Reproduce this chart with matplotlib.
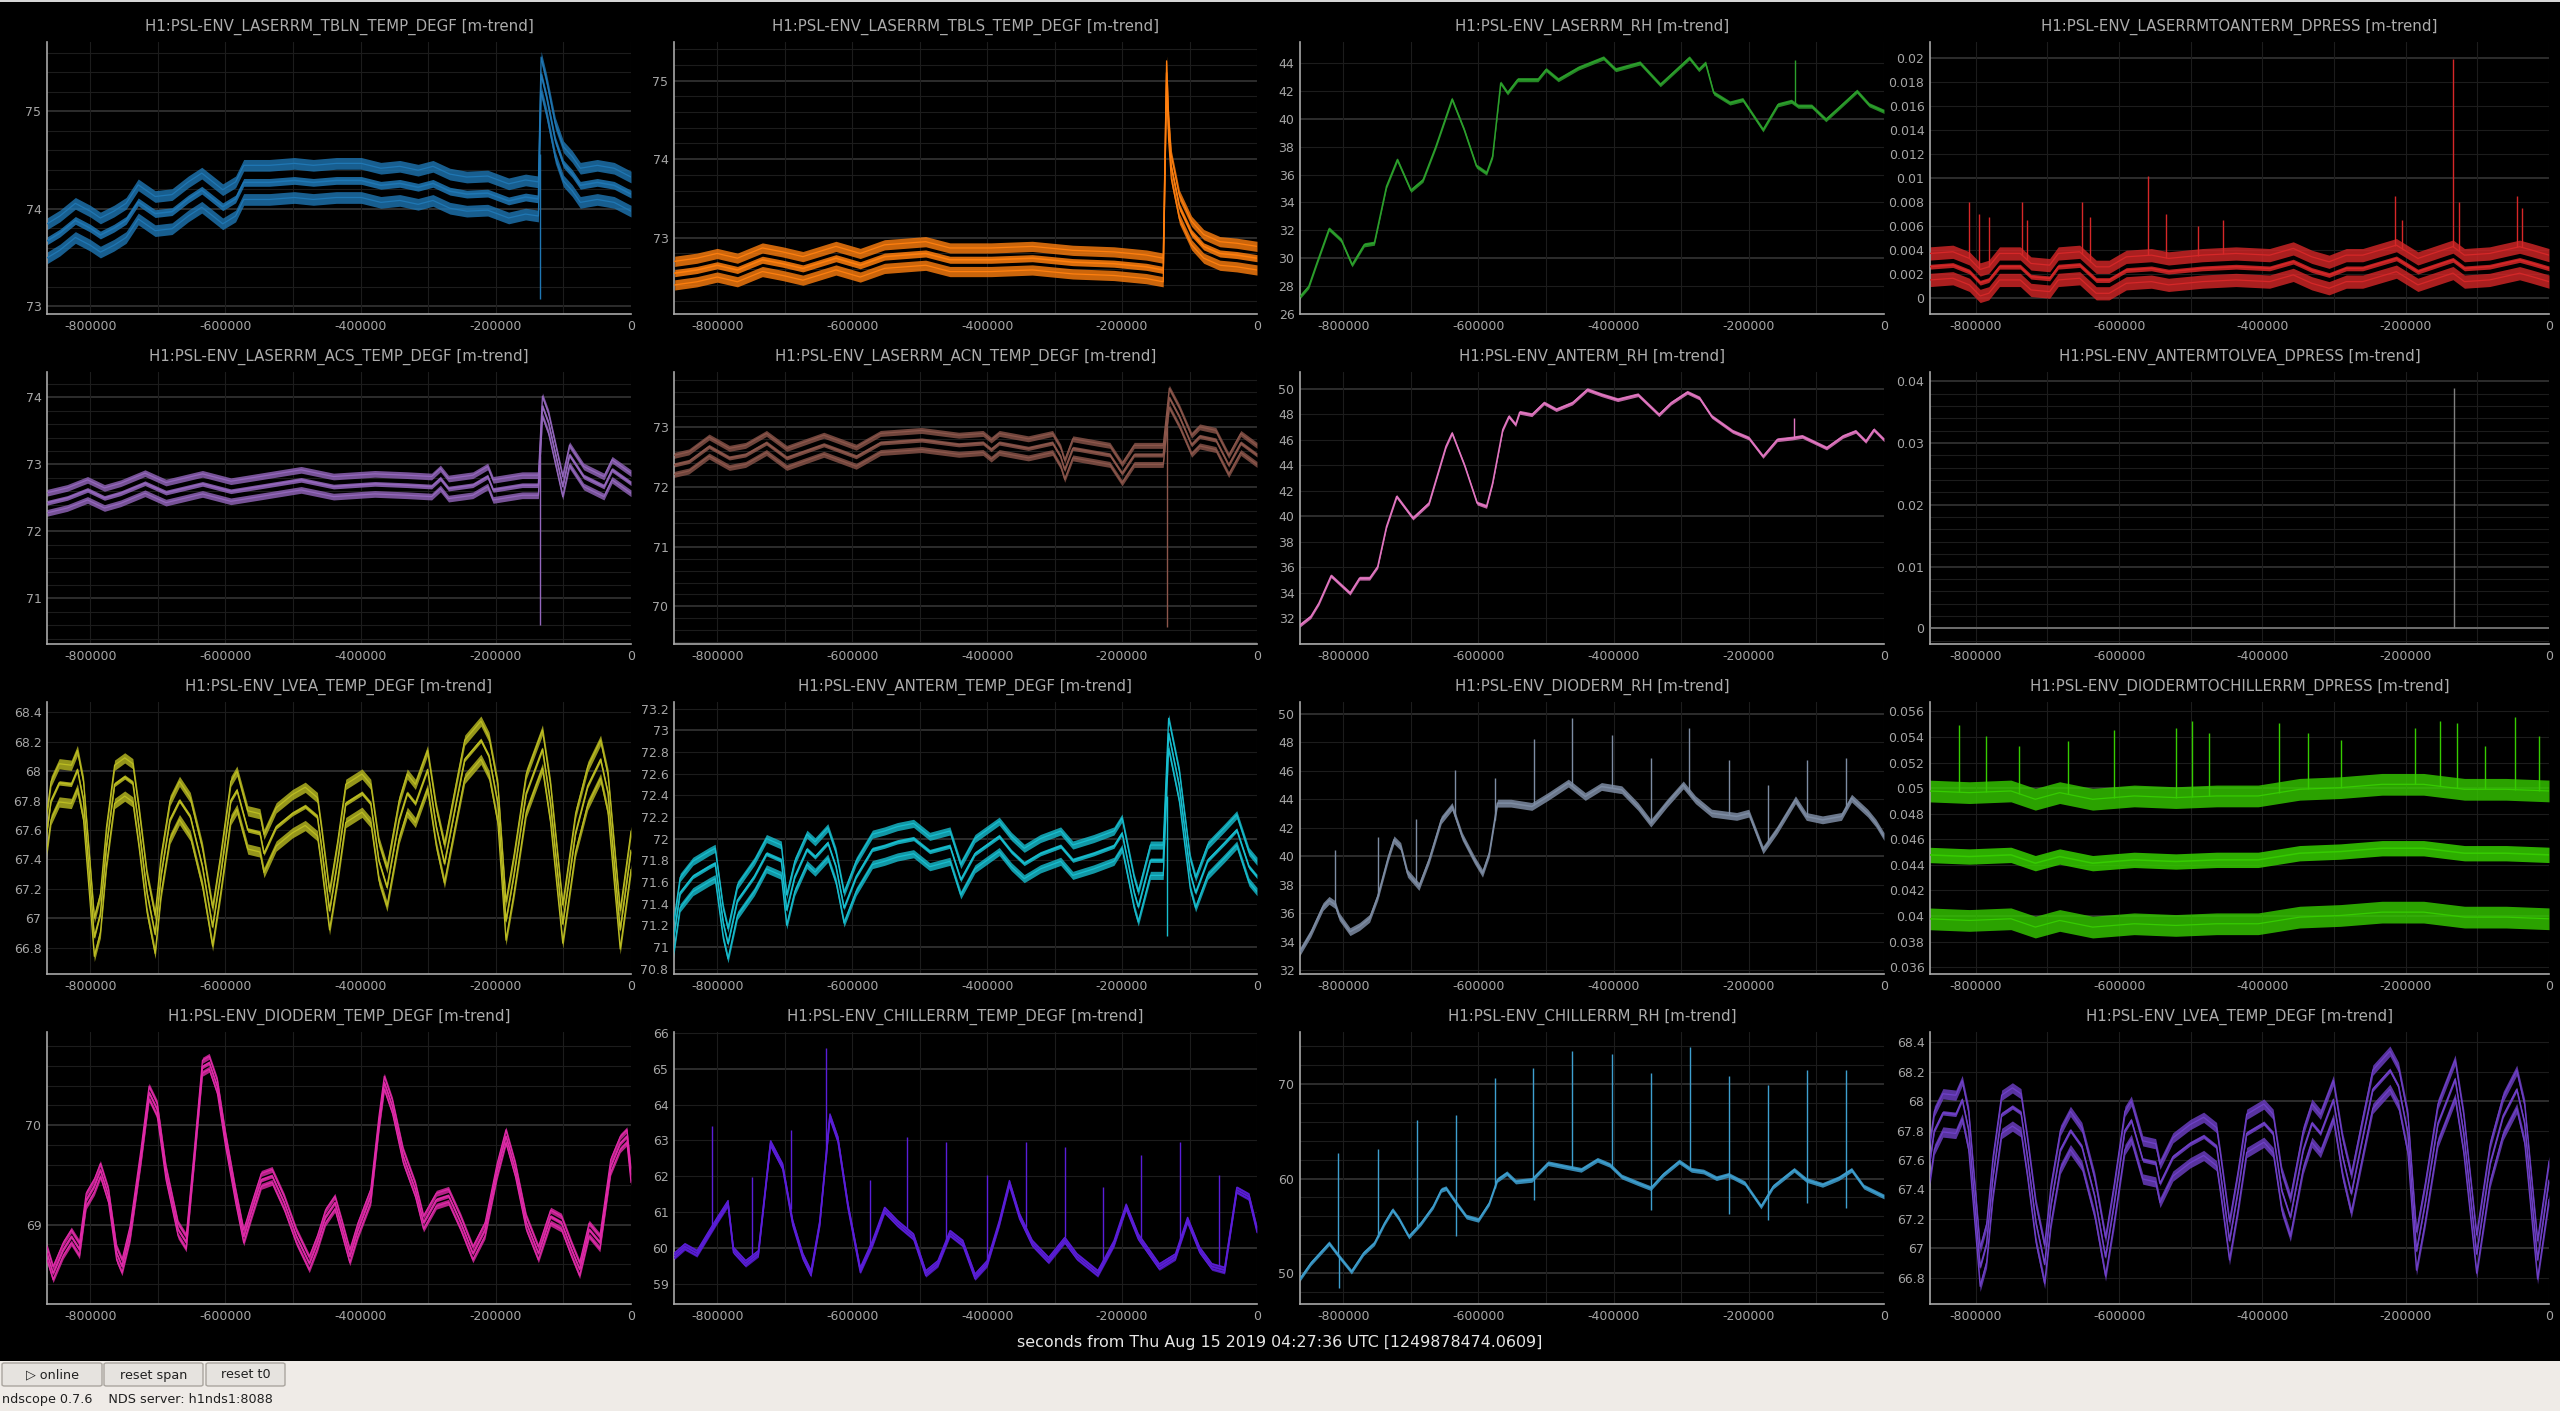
import numpy as np
import matplotlib
matplotlib.use('Agg')
import matplotlib.pyplot as plt
from matplotlib.patches import Rectangle, FancyBboxPatch

# -- data (time in kilo-seconds before t0, value of the trend mean) --
t_tbln = [-864, -845, -822, -800, -785, -765, -747, -729, -704, -679, -655, -635, -604, -585, -573, -535, -498, -470, -436, -399,
          -370, -342, -315, -293, -268, -243, -212, -181, -156, -137, -133, -125, -112, -100, -87, -75, -50, -25, 0]
v_tbln = [73.67, 73.75, 73.88, 73.80, 73.73, 73.80, 73.88, 74.07, 73.95, 73.97, 74.10, 74.19, 74.02, 74.10, 74.27, 74.27, 74.29, 74.27, 74.29, 74.29,
          74.24, 74.26, 74.22, 74.26, 74.18, 74.15, 74.16, 74.08, 74.12, 74.10, 75.38, 75.15, 74.70, 74.46, 74.36, 74.24, 74.27, 74.24, 74.15]
spk_t_tbln = [-135]
spk_v_tbln = [73.07]

t_tbls = [-863, -830, -800, -770, -733, -703, -673, -624, -588, -552, -491, -455, -394, -333, -273, -212, -164, -139, -134, -131,
          -127, -115, -97, -79, -55, -30, 0]
v_tbls = [72.55, 72.59, 72.65, 72.59, 72.72, 72.67, 72.61, 72.74, 72.65, 72.76, 72.80, 72.72, 72.72, 72.74, 72.69, 72.67, 72.63, 72.59, 75.10, 74.40,
          73.90, 73.39, 73.06, 72.89, 72.80, 72.78, 72.74]
spk_t_tbls = []
spk_v_tbls = []

t_lrh = [-866, -851, -839, -821, -803, -787, -769, -754, -736, -720, -700, -682, -663, -639, -621, -603, -588, -579, -567, -557,
         -542, -512, -500, -482, -452, -415, -397, -361, -331, -288, -274, -264, -252, -228, -209, -179, -157, -137, -127, -107,
         -86, -64, -40, -22, 0]
v_lrh = [27.13, 27.97, 29.65, 32.1, 31.3, 29.52, 30.96, 31.08, 35.15, 37.06, 34.86, 35.6, 38.0, 41.4, 39.2, 36.6, 36.1, 37.3, 42.56, 41.85,
         42.8, 42.8, 43.52, 42.8, 43.64, 44.36, 43.52, 44.0, 42.44, 44.36, 43.52, 44.0, 41.85, 41.13, 41.37, 39.2, 41.0, 41.25, 40.9, 40.9,
         39.93, 40.9, 41.97, 41.0, 40.53]
spk_t_lrh = [-132]
spk_v_lrh = [44.24]

t_lra = [-864, -832, -809, -794, -782, -767, -738, -723, -697, -685, -655, -632, -614, -590, -555, -531, -484, -437, -390, -357,
         -331, -307, -283, -260, -213, -183, -134, -118, -83, -41, -24, 0]
v_lra = [0.00263, 0.00277, 0.00222, 0.0013, 0.00152, 0.00263, 0.00263, 0.0018, 0.00166, 0.00263, 0.00277, 0.00152, 0.00152, 0.00235, 0.00249,
         0.00222, 0.00249, 0.00263, 0.00249, 0.00305, 0.00235, 0.00194, 0.00249, 0.00249, 0.00332, 0.00222, 0.0032, 0.00249, 0.00263, 0.00319,
         0.00291, 0.00249]
spk_t_lra = [-810, -795, -782, -735, -728, -652, -640, -560, -535, -490, -455, -215, -205, -134, -125, -45, -38]
spk_v_lra = [0.008, 0.007, 0.0068, 0.008, 0.0065, 0.008, 0.0068, 0.0102, 0.007, 0.006, 0.0065, 0.0085, 0.0065, 0.0199, 0.008, 0.0085, 0.0075]

t_acs = [-867, -834, -804, -779, -755, -719, -688, -634, -592, -549, -488, -440, -379, -331, -295, -282, -270, -234, -212, -204,
         -161, -137, -131, -122, -101, -91, -70, -40, -28, 0]
v_acs = [72.42, 72.50, 72.62, 72.50, 72.57, 72.72, 72.58, 72.71, 72.60, 72.67, 72.77, 72.67, 72.71, 72.69, 72.67, 72.79, 72.64, 72.69, 72.82, 72.62,
         72.69, 72.69, 73.87, 73.62, 72.67, 73.14, 72.82, 72.67, 72.92, 72.72]
spk_t_acs = [-134]
spk_v_acs = [70.6]

t_acn = [-865, -842, -812, -782, -758, -727, -697, -642, -594, -558, -497, -442, -406, -394, -382, -339, -303, -291, -285, -273,
         -218, -200, -182, -139, -130, -115, -97, -85, -61, -42, -24, 0]
v_acn = [72.37, 72.43, 72.68, 72.49, 72.54, 72.74, 72.49, 72.71, 72.51, 72.74, 72.79, 72.71, 72.74, 72.63, 72.74, 72.65, 72.74, 72.51, 72.29, 72.65,
         72.54, 72.23, 72.54, 72.54, 73.50, 73.18, 72.71, 72.85, 72.79, 72.37, 72.74, 72.54]
spk_t_acn = [-133]
spk_v_acn = [69.66]

t_arh = [-867, -848, -836, -818, -806, -790, -776, -761, -749, -736, -721, -697, -673, -648, -639, -620, -602, -588, -579, -564,
         -555, -545, -539, -521, -503, -485, -461, -439, -418, -394, -364, -333, -315, -291, -273, -255, -224, -200, -179, -158,
         -136, -121, -85, -61, -42, -27, -15, 0]
v_arh = [31.36, 32.15, 33.2, 35.35, 34.76, 33.98, 35.16, 35.16, 36.07, 39.21, 41.57, 39.87, 41.05, 45.5, 46.54, 43.93, 41.05, 40.79, 42.62, 46.81,
         47.85, 47.2, 48.17, 47.98, 48.9, 48.38, 48.9, 49.95, 49.55, 49.16, 49.55, 47.98, 48.9, 49.74, 49.29, 47.85, 46.68, 46.15, 44.71, 46.02,
         46.15, 46.28, 45.37, 46.28, 46.68, 45.89, 46.81, 46.02]
spk_t_arh = [-133]
spk_v_arh = [47.72]

t_alv = [-864, 0]
v_alv = [0.0, 0.0]
spk_t_alv = [-132]
spk_v_alv = [0.0389]

t_lvea = [-867, -858, -846, -828, -819, -810, -801, -794, -785, -776, -764, -749, -737, -728, -716, -704, -695, -682, -668, -652,
          -634, -619, -607, -592, -583, -567, -549, -543, -525, -501, -482, -464, -458, -446, -434, -422, -398, -385, -373, -361,
          -343, -331, -319, -301, -288, -276, -258, -246, -222, -210, -197, -185, -173, -155, -131, -119, -101, -82, -64, -45,
          -34, -16, 0]
v_lvea = [67.49, 67.80, 67.92, 67.91, 68.01, 67.80, 67.28, 66.87, 67.03, 67.49, 67.91, 67.96, 67.92, 67.62, 67.17, 66.89, 67.30, 67.67, 67.80, 67.69,
          67.35, 66.94, 67.30, 67.80, 67.87, 67.60, 67.58, 67.44, 67.62, 67.71, 67.76, 67.69, 67.49, 67.05, 67.39, 67.78, 67.85, 67.78, 67.39, 67.21,
          67.67, 67.85, 67.78, 68.01, 67.62, 67.37, 67.80, 68.08, 68.21, 68.10, 67.78, 66.98, 67.30, 67.85, 68.15, 67.78, 66.96, 67.58, 67.90, 68.08,
          67.85, 66.92, 67.46]
spk_t_lvea = []
spk_v_lvea = []

t_atemp = [-865, -855, -836, -812, -803, -791, -784, -770, -745, -727, -705, -697, -685, -667, -655, -636, -624, -612, -594, -570,
           -552, -533, -509, -485, -455, -439, -418, -382, -364, -345, -321, -291, -273, -242, -212, -200, -182, -176, -158, -139,
           -131, -115, -99, -91, -73, -48, -30, -12, 0]
v_atemp = [71.06, 71.50, 71.65, 71.74, 71.77, 71.22, 71.03, 71.43, 71.65, 71.86, 71.80, 71.34, 71.65, 71.90, 71.83, 71.96, 71.74, 71.36, 71.65, 71.90,
           71.93, 71.97, 72.00, 71.88, 71.93, 71.62, 71.86, 72.02, 71.88, 71.77, 71.86, 71.93, 71.80, 71.86, 71.93, 72.05, 71.50, 71.37, 71.80, 71.80,
           72.97, 72.48, 71.68, 71.50, 71.80, 71.96, 72.08, 71.74, 71.65]
spk_t_atemp = [-134]
spk_v_atemp = [71.1]

t_drh = [-867, -848, -830, -821, -812, -806, -790, -776, -761, -749, -733, -725, -715, -705, -688, -673, -655, -639, -624, -606,
         -594, -584, -572, -552, -521, -497, -467, -442, -418, -388, -364, -345, -321, -297, -279, -255, -218, -200, -179, -158,
         -131, -115, -91, -63, -48, -24, -12, 0]
v_drh = [33.07, 34.6, 36.46, 36.9, 36.6, 35.76, 34.7, 35.06, 35.64, 37.17, 39.98, 41.15, 40.68, 38.8, 37.87, 39.74, 42.55, 43.49, 41.38, 39.74,
         38.8, 40.2, 43.72, 43.72, 43.49, 44.19, 45.13, 44.19, 44.89, 44.66, 43.49, 42.32, 43.72, 45.0, 43.96, 43.02, 42.79, 43.02, 40.44, 41.85,
         43.96, 42.79, 42.55, 42.79, 44.07, 43.02, 42.32, 41.38]
spk_t_drh = [-812, -749, -693, -634, -576, -518, -461, -402, -345, -288, -230, -172, -114, -56]
spk_v_drh = [40.44, 41.38, 42.6, 46.07, 45.5, 48.2, 49.7, 48.5, 46.9, 49.0, 46.77, 45.0, 46.77, 46.9]

t_dch = [-867, -809, -751, -717, -683, -637, -579, -521, -464, -406, -348, -291, -233, -175, -118, -60, 0]
v_dch = [0.04478, 0.04465, 0.04478, 0.04413, 0.04465, 0.04413, 0.04439, 0.04426, 0.04439, 0.04439, 0.04491, 0.04504, 0.0453, 0.0453,
         0.04491, 0.04491, 0.04478]
spk_t_dch = [-823, -786, -740, -671, -607, -521, -498, -475, -377, -337, -291, -187, -152, -129, -89, -48, -14]
spk_v_dch = [0.05496, 0.05405, 0.05326, 0.05366, 0.05457, 0.0547, 0.05522, 0.05431, 0.05509, 0.05431, 0.05379, 0.0547, 0.05522, 0.05509,
             0.05326, 0.05556, 0.05405]

t_dtemp = [-867, -855, -840, -828, -816, -806, -794, -785, -773, -761, -753, -741, -725, -713, -701, -688, -670, -658, -646, -634,
           -624, -612, -600, -585, -573, -561, -547, -531, -513, -495, -476, -464, -452, -438, -428, -416, -404, -385, -373, -365,
           -353, -337, -319, -307, -288, -270, -252, -234, -216, -198, -185, -171, -155, -137, -119, -103, -88, -76, -62, -46,
           -30, -16, -6, 0]
v_dtemp = [68.78, 68.51, 68.75, 68.88, 68.75, 69.25, 69.39, 69.55, 69.29, 68.71, 68.58, 68.92, 69.69, 70.33, 70.16, 69.52, 68.95, 68.82, 69.69, 70.59,
           70.63, 70.39, 69.86, 69.29, 68.88, 69.15, 69.45, 69.49, 69.22, 68.88, 68.61, 68.82, 69.08, 69.22, 68.98, 68.68, 68.95, 69.29, 70.02, 70.43,
           70.19, 69.69, 69.35, 69.02, 69.25, 69.29, 69.02, 68.71, 68.95, 69.55, 69.89, 69.55, 69.02, 68.71, 69.08, 69.02, 68.75, 68.55, 68.95, 68.82,
           69.59, 69.82, 69.89, 69.49]
spk_t_dtemp = []
spk_v_dtemp = []

t_ctemp = [-865, -848, -830, -812, -800, -784, -776, -758, -739, -721, -703, -688, -673, -661, -648, -633, -621, -606, -588, -570,
           -552, -533, -509, -491, -473, -455, -436, -418, -400, -382, -367, -352, -333, -309, -285, -267, -236, -212, -194, -176,
           -145, -121, -103, -85, -67, -48, -30, -12, 0]
v_ctemp = [59.76, 60.04, 59.85, 60.41, 60.78, 61.25, 59.94, 59.57, 59.85, 62.92, 62.27, 60.69, 59.76, 59.29, 60.69, 63.67, 63.02, 61.15, 59.38, 60.13,
           61.06, 60.69, 60.31, 59.29, 59.57, 60.41, 60.13, 59.2, 59.57, 60.69, 61.81, 60.88, 60.13, 59.66, 60.22, 59.76, 59.29, 60.13, 61.15, 60.31,
           59.48, 59.76, 60.78, 59.94, 59.48, 59.38, 61.62, 61.43, 60.5]
spk_t_ctemp = [-808, -749, -691, -639, -573, -518, -461, -400, -343, -285, -228, -172, -114, -56]
spk_v_ctemp = [63.39, 61.99, 63.3, 65.58, 61.9, 63.11, 62.97, 62.04, 62.97, 62.83, 61.71, 62.6, 62.97, 62.04]

t_crh = [-867, -848, -830, -821, -806, -788, -770, -754, -739, -727, -718, -703, -685, -667, -655, -648, -636, -618, -600, -584,
         -572, -558, -545, -521, -497, -473, -448, -424, -406, -388, -364, -345, -327, -303, -285, -267, -248, -230, -206, -182,
         -164, -133, -115, -91, -67, -48, -30, 0]
v_crh = [49.1, 51.04, 52.45, 53.16, 51.75, 50.16, 52.1, 53.16, 55.27, 56.68, 55.8, 53.86, 55.27, 57.04, 58.8, 58.98, 57.74, 55.98, 55.63, 57.39,
         59.86, 60.56, 59.68, 59.86, 61.62, 61.27, 60.92, 61.98, 61.45, 60.21, 59.51, 58.98, 60.39, 61.8, 60.92, 60.74, 60.04, 60.39, 59.51, 57.04,
         59.15, 60.92, 59.86, 59.33, 60.04, 60.92, 59.15, 58.1]
spk_t_crh = [-808, -749, -691, -633, -576, -519, -461, -402, -345, -287, -230, -172, -114, -56,
             -807, -633, -518, -345, -230, -172, -114, -56]
spk_v_crh = [62.68, 63.1, 66.2, 66.74, 70.62, 71.68, 73.44, 73.2, 71.15, 73.9, 70.86, 69.9, 71.5, 71.5,
             48.4, 53.9, 57.7, 56.7, 56.3, 55.6, 57.4, 56.9]

# spread of the min / max trend lines around the mean
band_spread = [0.175, 0.15, 0.0, 0.0011, 0.15, 0.16, 0.0, 0.0,
               0.13, 0.14, 0.0, 0.005, 0.065, 0.07, 0.0, 0.13]

titles = ['H1:PSL-ENV_LASERRM_TBLN_TEMP_DEGF [m-trend]', 'H1:PSL-ENV_LASERRM_TBLS_TEMP_DEGF [m-trend]',
          'H1:PSL-ENV_LASERRM_RH [m-trend]', 'H1:PSL-ENV_LASERRMTOANTERM_DPRESS [m-trend]',
          'H1:PSL-ENV_LASERRM_ACS_TEMP_DEGF [m-trend]', 'H1:PSL-ENV_LASERRM_ACN_TEMP_DEGF [m-trend]',
          'H1:PSL-ENV_ANTERM_RH [m-trend]', 'H1:PSL-ENV_ANTERMTOLVEA_DPRESS [m-trend]',
          'H1:PSL-ENV_LVEA_TEMP_DEGF [m-trend]', 'H1:PSL-ENV_ANTERM_TEMP_DEGF [m-trend]',
          'H1:PSL-ENV_DIODERM_RH [m-trend]', 'H1:PSL-ENV_DIODERMTOCHILLERRM_DPRESS [m-trend]',
          'H1:PSL-ENV_DIODERM_TEMP_DEGF [m-trend]', 'H1:PSL-ENV_CHILLERRM_TEMP_DEGF [m-trend]',
          'H1:PSL-ENV_CHILLERRM_RH [m-trend]', 'H1:PSL-ENV_LVEA_TEMP_DEGF [m-trend]']

x_ticks = [-800000, -600000, -400000, -200000, 0]
y_ticks = [
    [73, 74, 75], [73, 74, 75], list(range(26, 45, 2)),
    [0, 0.002, 0.004, 0.006, 0.008, 0.01, 0.012, 0.014, 0.016, 0.018, 0.02],
    [71, 72, 73, 74], [70, 71, 72, 73], list(range(32, 51, 2)), [0, 0.01, 0.02, 0.03, 0.04],
    [66.8, 67, 67.2, 67.4, 67.6, 67.8, 68, 68.2, 68.4],
    [70.8, 71, 71.2, 71.4, 71.6, 71.8, 72, 72.2, 72.4, 72.6, 72.8, 73, 73.2],
    list(range(32, 51, 2)),
    [0.036, 0.038, 0.04, 0.042, 0.044, 0.046, 0.048, 0.05, 0.052, 0.054, 0.056],
    [69, 70], list(range(59, 67)), [50, 60, 70],
    [66.8, 67, 67.2, 67.4, 67.6, 67.8, 68, 68.2, 68.4]]

series = [(t_tbln, v_tbln, spk_t_tbln, spk_v_tbln), (t_tbls, v_tbls, spk_t_tbls, spk_v_tbls),
          (t_lrh, v_lrh, spk_t_lrh, spk_v_lrh), (t_lra, v_lra, spk_t_lra, spk_v_lra),
          (t_acs, v_acs, spk_t_acs, spk_v_acs), (t_acn, v_acn, spk_t_acn, spk_v_acn),
          (t_arh, v_arh, spk_t_arh, spk_v_arh), (t_alv, v_alv, spk_t_alv, spk_v_alv),
          (t_lvea, v_lvea, spk_t_lvea, spk_v_lvea), (t_atemp, v_atemp, spk_t_atemp, spk_v_atemp),
          (t_drh, v_drh, spk_t_drh, spk_v_drh), (t_dch, v_dch, spk_t_dch, spk_v_dch),
          (t_dtemp, v_dtemp, spk_t_dtemp, spk_v_dtemp), (t_ctemp, v_ctemp, spk_t_ctemp, spk_v_ctemp),
          (t_crh, v_crh, spk_t_crh, spk_v_crh), (t_lvea, v_lvea, spk_t_lvea, spk_v_lvea)]

# -- styles: colour, ylim, bright grid step, dim grid step, outer ribbon, mean ribbon --
colors = ['#1f77b4', '#ff7f0e', '#2ca02c', '#d62728', '#9467bd', '#8c564b', '#e377c2', '#7f7f7f',
          '#bcbd22', '#17becf', '#7d8ca3', '#36cc00', '#e02aa8', '#5a1ed8', '#3e9fcf', '#6f40c8']
ylims = [(72.92, 75.71), (72.03, 75.49), (26.0, 45.5), (-0.0013, 0.0213),
         (70.32, 74.38), (69.37, 73.93), (30.0, 51.33), (-0.00254, 0.0415),
         (66.62, 68.47), (70.75, 73.26), (31.73, 50.82), (0.03546, 0.05674),
         (68.2, 70.94), (58.43, 66.03), (46.74, 75.49), (66.62, 68.47)]
grid_bright = [1, 1, 10, 0.01, 1, 1, 10, 0.01, 1, 1, 10, 0.01, 1, 5, 10, 1]
grid_dim = [0.2, 0.2, 2, 0.002, 0.2, 0.2, 2, 0.002, 0.2, 0.2, 2, 0.002, 0.2, 1, 2, 0.2]
ribbon_outer = [0.12, 0.13, 0, 0.0011, 0.1, 0.1, 0, 0, 0.07, 0.075, 0, 0.0017, 0.06, 0.08, 0, 0.07]
ribbon_mean = [0.08, 0.09, 0.3, 0.0004, 0.07, 0.07, 0.3, 0, 0.03, 0.04, 0.55, 0.0012, 0.04, 0.06, 0.5, 0.03]

W, H = 2560, 1411
col_l = [47, 674, 1300, 1930]
col_r = [631, 1257, 1884, 2549]
row_t = [42, 372, 702, 1032]
row_b = [314, 644, 974, 1304]

GRID_BRIGHT = '#343434'
GRID_DIM = '#1c1c1c'
TXT = '#a6a6a6'

plt.rcParams['font.family'] = ['DejaVu Sans']
fig = plt.figure(figsize=(W / 100, H / 100), dpi=100, facecolor='black')


def levels(lo, hi, step):
    start = np.ceil(lo / step - 1e-9) * step
    return np.round(np.arange(start, hi + 1e-12, step), 9)


for i in range(16):
    r, c = divmod(i, 4)
    l, rr, t, b = col_l[c], col_r[c], row_t[r], row_b[r]
    ax = fig.add_axes([l / W, 1 - b / H, (rr - l) / W, (b - t) / H], facecolor='black')
    tk, vals, st, sv = series[i]
    x = np.array(tk) * 1000.0
    y = np.array(vals)
    col = colors[i]
    lo, hi = ylims[i]
    ax.set_xlim(-864000, 0)
    ax.set_ylim(lo, hi)

    # -- grid ---------------------------------------------------------
    for yy in levels(lo, hi, grid_dim[i]):
        k = yy / grid_bright[i]
        bright = abs(k - round(k)) < 1e-6
        ax.axhline(yy, color=GRID_BRIGHT if bright else GRID_DIM,
                   lw=1.2 if bright else 0.8, zorder=0)
    for xx in range(-800000, 1, 100000):
        ax.axvline(xx, color=GRID_DIM, lw=0.8, zorder=0)

    # -- min / mean / max traces --------------------------------------
    off = band_spread[i]
    if off > 0:
        for o in (-off, off):
            h = ribbon_outer[i] / 2
            ax.fill_between(x, y + o - h, y + o + h, color=col, alpha=0.8, lw=0, zorder=2)
            ax.plot(x, y + o, color=col, lw=0.9, zorder=3)
    if ribbon_mean[i] > 0:
        h = ribbon_mean[i] / 2
        ax.fill_between(x, y - h, y + h, color=col, alpha=0.85, lw=0, zorder=2)
    ax.plot(x, y, color=col, lw=1.1, zorder=3)

    # spikes
    for s, top in zip(st, sv):
        base = np.interp(s * 1000.0, x, y)
        base = base + off if top > base else base - off
        ax.vlines(s * 1000.0, base, top, color=col, lw=1.0, zorder=3)

    # -- axes ---------------------------------------------------------
    ax.set_xticks(x_ticks, labels=['%d' % v for v in x_ticks])
    yt = y_ticks[i]
    ax.set_yticks(yt, labels=['%g' % round(v, 6) for v in yt])
    ax.tick_params(length=0, colors=TXT, labelsize=9, pad=4)
    for sp in ('top', 'right'):
        ax.spines[sp].set_visible(False)
    for sp in ('left', 'bottom'):
        ax.spines[sp].set_color('#a8a8a8')
        ax.spines[sp].set_linewidth(1.2)
    ax.text(0.5, 1 + 15 / (b - t), titles[i], transform=ax.transAxes,
            ha='center', va='center', color='#acacac', fontsize=10.8)

# -- x label ----------------------------------------------------------
fig.text(1280 / W, 1 - 1342 / H, 'seconds from Thu Aug 15 2019 04:27:36 UTC [1249878474.0609]',
         ha='center', va='center', color='#e6e6e6', fontsize=11.4)

# -- top edge and bottom control bar ---------------------------------
fig.patches.append(Rectangle((0, 1 - 2 / H), 1, 2 / H, transform=fig.transFigure,
                             facecolor='#d6d6d6', edgecolor='none'))
fig.patches.append(Rectangle((0, 0), 1, 50 / H, transform=fig.transFigure,
                             facecolor='#efebe7', edgecolor='none'))
buttons = [('\u25b7 online', 2, 102), ('reset span', 104, 203), ('reset t0', 206, 285)]
for lab, x0, x1 in buttons:
    fig.patches.append(FancyBboxPatch((x0 / W, 1 - 1386 / H), (x1 - x0) / W, 23 / H,
                                      boxstyle='round,pad=0,rounding_size=0.001',
                                      transform=fig.transFigure, facecolor='#e6e3df',
                                      edgecolor='#aaa59f', lw=1))
    fig.text((x0 + x1) / 2 / W, 1 - 1375 / H, lab, ha='center', va='center',
             color='#202020', fontsize=9.2)
fig.text(2 / W, 1 - 1399 / H, 'ndscope 0.7.6    NDS server: h1nds1:8088',
         ha='left', va='center', color='#202020', fontsize=9.2)

fig.savefig('out.png', dpi=100, facecolor='black')
